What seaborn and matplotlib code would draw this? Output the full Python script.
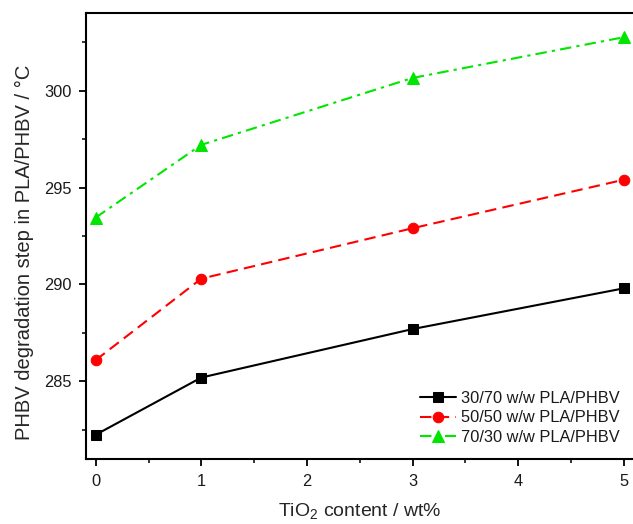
import matplotlib
matplotlib.use("Agg")
import matplotlib.pyplot as plt
import seaborn as sns
import pandas as pd
from matplotlib.ticker import MultipleLocator

tio2 = [0, 1, 3, 5]
s30_70 = [282.25, 285.2, 287.7, 289.8]
s50_50 = [286.1, 290.3, 292.9, 295.4]
s70_30 = [293.45, 297.2, 300.65, 302.75]
labels = ["30/70 w/w PLA/PHBV", "50/50 w/w PLA/PHBV", "70/30 w/w PLA/PHBV"]

sns.set_style("ticks")
plt.rcParams['font.family'] = ['Liberation Sans', 'DejaVu Sans']
plt.rcParams['mathtext.fontset'] = 'custom'
plt.rcParams['mathtext.rm'] = 'Liberation Sans'
plt.rcParams['text.color'] = '#1a1a1a'

W, H = 633, 524
fig = plt.figure(figsize=(W / 100, H / 100), dpi=100)
left_px, right_px, top_px, bot_px = 86, 640, 13, 459
ax = fig.add_axes([left_px / W, 1 - bot_px / H, (right_px - left_px) / W, (bot_px - top_px) / H])

styles = [
    (s30_70, labels[0], "black", "-", "s", 7.2),
    (s50_50, labels[1], "#ff0000", (0, (5.5, 3)), "o", 7.6),
    (s70_30, labels[2], "#00e600", (0, (5.5, 2.5, 1.5, 2.5)), "^", 8.8),
]
for vals, lab, col, ls, mk, ms in styles:
    df = pd.DataFrame({"x": tio2, "y": vals})
    sns.lineplot(data=df, x="x", y="y", ax=ax, color=col, linestyle=ls,
                 marker=mk, markersize=ms, markeredgecolor=col,
                 linewidth=1.5, label=lab)

# x = 0 at 95.7 px, x = 5 at 623.7 px
ppu = (623.7 - 95.7) / 5
ax.set_xlim(-(95.7 - left_px) / ppu, 5 + (right_px - 623.7) / ppu)
ax.set_ylim(281, 304)
ax.xaxis.set_major_locator(MultipleLocator(1))
ax.xaxis.set_minor_locator(MultipleLocator(0.5))
ax.yaxis.set_major_locator(MultipleLocator(5))
ax.yaxis.set_minor_locator(MultipleLocator(2.5))
ax.tick_params(which='major', direction='out', length=5, width=1.3, labelsize=11.8,
               colors='black', labelcolor='#1a1a1a')
ax.tick_params(axis='x', which='major', pad=6)
ax.tick_params(axis='y', which='major', pad=5)
ax.tick_params(which='minor', direction='out', length=3, width=1.3)
for sp in ax.spines.values():
    sp.set_linewidth(1.5)
    sp.set_color('black')

ax.set_xlabel("TiO$_2$ content / wt%", fontsize=14, va='center')
ax.xaxis.set_label_coords((360 - left_px) / (right_px - left_px), (bot_px - 512) / (bot_px - top_px))
ax.set_ylabel("PHBV degradation step in PLA/PHBV / °C", fontsize=14.5, va='center')
ax.yaxis.set_label_coords((24 - left_px) / (right_px - left_px), (bot_px - 252) / (bot_px - top_px))

leg = ax.legend(loc="center left", frameon=False, fontsize=11.8,
                handlelength=2.2, handletextpad=0.3, labelspacing=0.27,
                borderpad=0, borderaxespad=0,
                bbox_to_anchor=(420 / W, 1 - 418 / H), bbox_transform=fig.transFigure)

fig.savefig("out.png", dpi=100)
